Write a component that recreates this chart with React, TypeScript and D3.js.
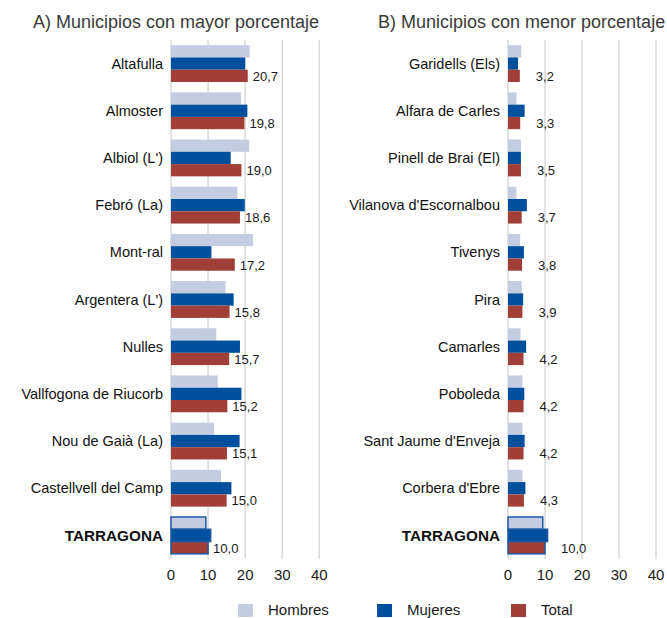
import React from "react";
import * as d3 from "d3";

const categoriesA = [
  "Altafulla",
  "Almoster",
  "Albiol (L')",
  "Febró (La)",
  "Mont-ral",
  "Argentera (L')",
  "Nulles",
  "Vallfogona de Riucorb",
  "Nou de Gaià (La)",
  "Castellvell del Camp",
  "TARRAGONA",
];
const hombresA = [21.2, 18.9, 21.1, 17.9, 22.1, 14.7, 12.2, 12.6, 11.6, 13.5, 9.4];
const mujeresA = [20.0, 20.6, 16.1, 19.9, 10.9, 16.9, 18.6, 19.0, 18.5, 16.3, 10.7];
const totalA = [20.7, 19.8, 19.0, 18.6, 17.2, 15.8, 15.7, 15.2, 15.1, 15.0, 10.0];

const categoriesB = [
  "Garidells (Els)",
  "Alfara de Carles",
  "Pinell de Brai (El)",
  "Vilanova d'Escornalbou",
  "Tivenys",
  "Pira",
  "Camarles",
  "Poboleda",
  "Sant Jaume d'Enveja",
  "Corbera d'Ebre",
  "TARRAGONA",
];
const hombresB = [3.6, 2.3, 3.5, 2.3, 3.3, 3.7, 3.4, 3.9, 3.9, 3.9, 9.4];
const mujeresB = [2.7, 4.5, 3.5, 5.1, 4.3, 4.1, 4.9, 4.4, 4.5, 4.7, 10.7];
const totalB = [3.2, 3.3, 3.5, 3.7, 3.8, 3.9, 4.2, 4.2, 4.2, 4.3, 10.0];

const tickValues = [0, 10, 20, 30, 40];
const seriesNames = ["Hombres", "Mujeres", "Total"];
const titleA = "A) Municipios con mayor porcentaje";
const titleB = "B) Municipios con menor porcentaje";

const COLORS = ["#c3cce0", "#00509e", "#a03e37"];
const FONT = "'Liberation Sans', Arial, sans-serif";

const locale = d3.formatLocale({
  decimal: ",",
  thousands: ".",
  grouping: [3],
  currency: ["", "€"],
});
const fmt = locale.format(".1f");

type PanelProps = {
  title: string;
  titleX: number;
  categories: string[];
  hombres: number[];
  mujeres: number[];
  total: number[];
  x0: number;
  x1: number;
  labelOffset: number;
};

function Panel(p: PanelProps) {
  const x = d3.scaleLinear().domain([0, 40]).range([p.x0, p.x1]);
  const y = d3
    .scaleBand<string>()
    .domain(p.categories)
    .range([40, 559])
    .paddingInner(0.22)
    .paddingOuter(0.11);
  const inner = d3
    .scaleBand<string>()
    .domain(seriesNames)
    .range([0, y.bandwidth()]);
  const series = [p.hombres, p.mujeres, p.total];
  const [yTop, yBot] = y.range();
  return (
    <g>
      <text
        x={p.titleX}
        y={28}
        fontFamily={FONT}
        fontSize={18}
        fill="#3a3a3a"
      >
        {p.title}
      </text>
      {tickValues.map((t) => (
        <g key={t}>
          <line
            x1={x(t)}
            x2={x(t)}
            y1={yTop}
            y2={yBot}
            stroke="#d9d9d9"
            strokeWidth={1.5}
          />
          <text
            x={x(t)}
            y={yBot + 21}
            textAnchor="middle"
            fontFamily={FONT}
            fontSize={15}
            fill="#1a1a1a"
          >
            {t}
          </text>
        </g>
      ))}
      {p.categories.map((c, i) => {
        const isTot = c === "TARRAGONA";
        const gy = y(c) as number;
        return (
          <g key={c}>
            {series.map((s, k) => (
              <rect
                key={k}
                x={x(0)}
                y={gy + (inner(seriesNames[k]) as number)}
                width={x(s[i]) - x(0)}
                height={inner.bandwidth()}
                fill={COLORS[k]}
                stroke={isTot ? "#1c5aa6" : "none"}
                strokeWidth={isTot ? 1.5 : 0}
              />
            ))}
            <text
              x={x(0) - 8}
              y={gy + y.bandwidth() / 2}
              dy="0.35em"
              textAnchor="end"
              fontFamily={FONT}
              fontSize={isTot ? 15.3 : 14.5}
              fontWeight={isTot ? "bold" : "normal"}
              fill="#111"
            >
              {c}
            </text>
            <text
              x={x(p.total[i]) + p.labelOffset}
              y={gy + (inner("Total") as number) + inner.bandwidth() / 2}
              dy="0.38em"
              fontFamily={FONT}
              fontSize={13}
              fill="#1a1a1a"
            >
              {fmt(p.total[i])}
            </text>
          </g>
        );
      })}
    </g>
  );
}

const legendX = [238, 377, 511];

export default function App() {
  return (
    <div style={{ position: "absolute", left: 0, top: 0 }}>
      <svg width={667} height={618} style={{ display: "block", background: "#fff" }}>
        <Panel
          title={titleA}
          titleX={33}
          categories={categoriesA}
          hombres={hombresA}
          mujeres={mujeresA}
          total={totalA}
          x0={171}
          x1={319.3}
          labelOffset={5}
        />
        <Panel
          title={titleB}
          titleX={378}
          categories={categoriesB}
          hombres={hombresB}
          mujeres={mujeresB}
          total={totalB}
          x0={508}
          x1={656}
          labelOffset={16}
        />
        {seriesNames.map((n, k) => (
          <g key={n}>
            <rect x={legendX[k]} y={604} width={15} height={13} fill={COLORS[k]} />
            <text
              x={legendX[k] + 30}
              y={614.5}
              fontFamily={FONT}
              fontSize={15}
              fill="#1a1a1a"
            >
              {n}
            </text>
          </g>
        ))}
      </svg>
    </div>
  );
}
